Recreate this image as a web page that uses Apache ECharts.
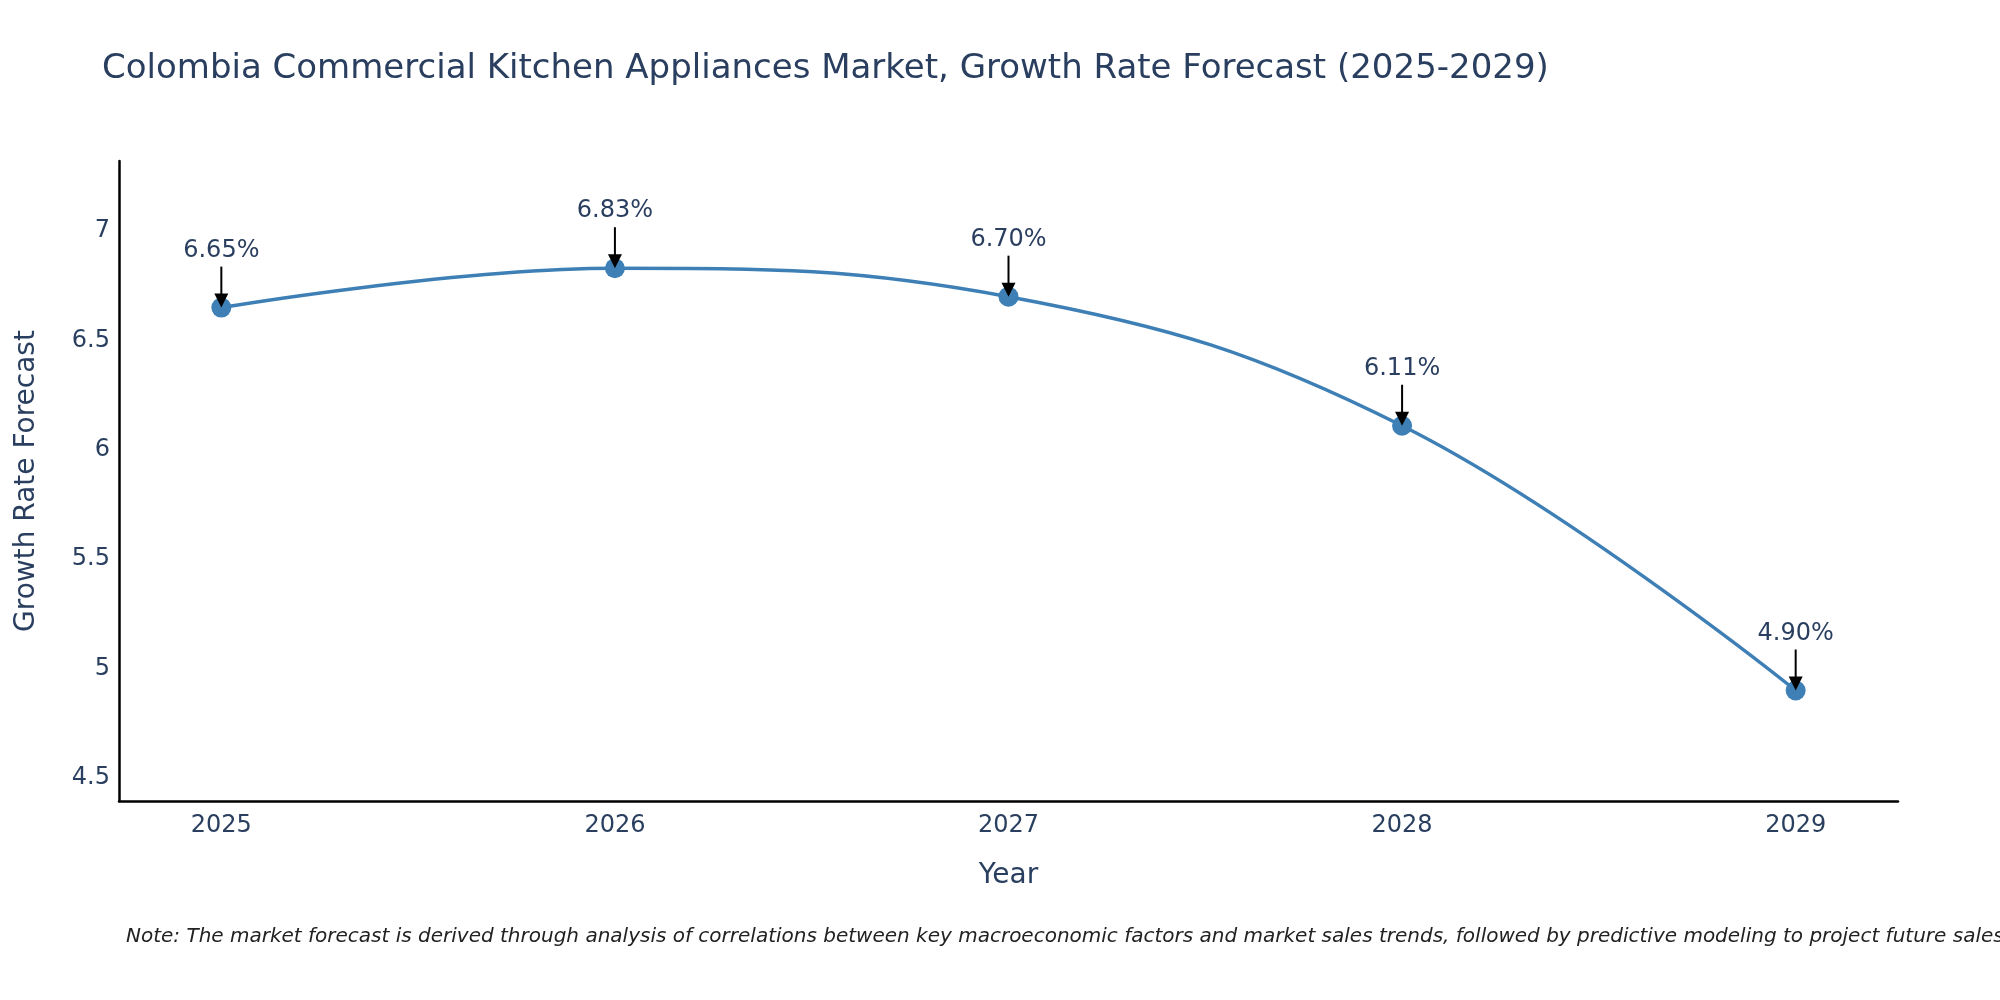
<!DOCTYPE html>
<html>
<head>
<meta charset="utf-8">
<title>Colombia Commercial Kitchen Appliances Market</title>
<script src="https://cdn.jsdelivr.net/npm/echarts@6/dist/echarts.min.js"></script>
<style>
    html, body { margin: 0; padding: 0; background: #fff; }
    #chart { width: 2000px; height: 1000px; }
</style>
</head>
<body>
<div id="chart"></div>
<script>
    // data
    var years = [2025, 2026, 2027, 2028, 2029];
    var growthRates = [6.65, 6.83, 6.70, 6.11, 4.90];
    var yTicks = [4.5, 5, 5.5, 6, 6.5, 7];

    var textColor = '#2a3f5f';
    var lineColor = '#3e80b6';
    var fontFamily = '"DejaVu Sans", Verdana, sans-serif';

    var points = years.map(function (y, i) {
        return [y, growthRates[i]];
    });

    var chart = echarts.init(document.getElementById('chart'));

    // arrow + text above each point, placed through the axis scales
    function renderArrow(params, api) {
        var p = api.coord([api.value(0), api.value(1)]);
        var cx = p[0], cy = p[1];
        var head = 14, halfW = 7, len = 41;
        return {
            type: 'group',
            children: [
                {
                    type: 'line',
                    shape: { x1: cx, y1: cy - len, x2: cx, y2: cy - head + 1 },
                    style: { stroke: '#000', lineWidth: 2 }
                },
                {
                    type: 'polygon',
                    shape: { points: [[cx - halfW, cy - head], [cx + halfW, cy - head], [cx, cy]] },
                    style: { fill: '#000' }
                },
                {
                    type: 'text',
                    x: cx,
                    y: cy - len - 16,
                    style: {
                        text: api.value(1).toFixed(2) + '%',
                        fill: textColor,
                        font: '24px ' + fontFamily,
                        align: 'center',
                        verticalAlign: 'middle'
                    }
                }
            ]
        };
    }

    chart.setOption({
        backgroundColor: '#fff',
        animation: false,
        title: [
            {
                text: 'Colombia Commercial Kitchen Appliances Market, Growth Rate Forecast (2025-2029)',
                left: 97,
                top: 47,
                textStyle: {
                    color: textColor,
                    fontFamily: fontFamily,
                    fontSize: 34,
                    fontWeight: 'normal'
                }
            },
            {
                text: 'Note: The market forecast is derived through analysis of correlations between key macroeconomic factors and market sales trends, followed by predictive modeling to project future sales.',
                left: 121,
                top: 922,
                textStyle: {
                    color: '#222',
                    fontFamily: fontFamily,
                    fontSize: 20,
                    fontStyle: 'italic',
                    fontWeight: 'normal'
                }
            }
        ],
        grid: {
            left: 119,
            right: 102,
            top: 161,
            bottom: 199
        },
        xAxis: {
            type: 'value',
            min: 2024.74,
            max: 2029.26,
            name: 'Year',
            nameLocation: 'middle',
            nameGap: 61,
            nameTextStyle: { color: textColor, fontFamily: fontFamily, fontSize: 28 },
            axisLine: { show: true, onZero: false, lineStyle: { color: '#000', width: 2.5 } },
            axisTick: { show: false },
            splitLine: { show: false },
            axisLabel: {
                customValues: years,
                color: textColor,
                fontFamily: fontFamily,
                fontSize: 24,
                margin: 13,
                formatter: function (v) { return String(v); }
            }
        },
        yAxis: {
            type: 'value',
            min: 4.395,
            max: 7.32,
            name: 'Growth Rate Forecast',
            nameLocation: 'middle',
            nameGap: 78,
            nameTextStyle: { color: textColor, fontFamily: fontFamily, fontSize: 28 },
            axisLine: { show: true, onZero: false, lineStyle: { color: '#000', width: 2.5 } },
            axisTick: { show: false },
            splitLine: { show: false },
            axisLabel: {
                customValues: yTicks,
                color: textColor,
                fontFamily: fontFamily,
                fontSize: 24,
                margin: 9,
                formatter: function (v) { return String(v); }
            }
        },
        series: [
            {
                type: 'line',
                data: points,
                smooth: 0.4,
                symbol: 'circle',
                symbolSize: 20,
                lineStyle: { color: lineColor, width: 3.5 },
                itemStyle: { color: lineColor },
                z: 2
            },
            {
                type: 'custom',
                data: points,
                renderItem: renderArrow,
                z: 5,
                silent: true
            }
        ]
    });
</script>
</body>
</html>
